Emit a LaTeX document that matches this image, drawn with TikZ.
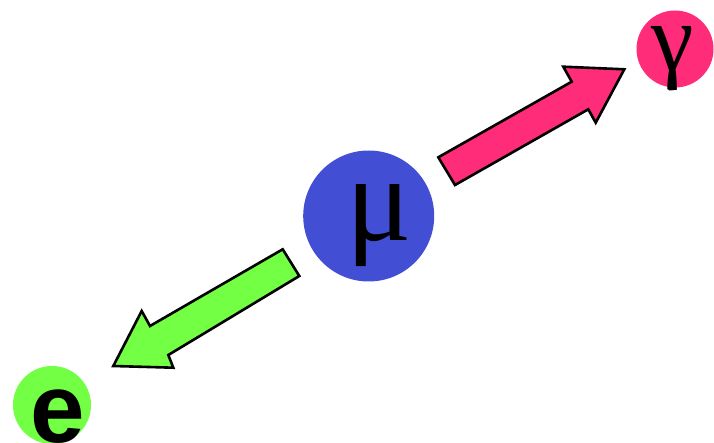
\documentclass[tikz,border=0pt]{standalone}
\usepackage{fontspec}
\setmainfont{Liberation Serif}
\newfontfamily\efont{Liberation Sans}
\definecolor{mublue}{RGB}{66,78,212}
\definecolor{gpink}{RGB}{255,44,122}
\definecolor{egreen}{RGB}{115,255,68}
\tikzset{
  particle/.style={circle, inner sep=0pt, draw=none},
  blockarrow/.style={draw=black, line width=2.6pt, line join=miter},
  glyph/.style={inner sep=0pt, text=black}
}
\begin{document}
\begin{tikzpicture}[x=1pt,y=-1pt]
\useasboundingbox (0,0) rectangle (714,443);
\clip (0,0) rectangle (714,443);
% particles
\node[particle, fill=mublue, minimum size=131pt] (mu) at (368.7,216) {};
\node[particle, fill=gpink, minimum size=77pt] (gamma) at (675,49) {};
\node[particle, fill=egreen, minimum size=78pt] (e) at (52,405) {};
% glyphs
\node[glyph, font=\fontsize{122}{122}\selectfont] (mul) at (379,226) {μ};
\node[glyph, font=\fontsize{96}{96}\selectfont] (gl) at (672.5,59) {γ};
\node[glyph, font=\efont\bfseries\fontsize{98}{98}\selectfont, anchor=base] (el) at (57.5,442) {e};
% pink arrow
\filldraw[blockarrow, fill=gpink]
  (438.3,157.3) -- (571.7,81.7) -- (563.3,66.7) -- (624.3,69.3)
  -- (595.7,122.7) -- (588.3,109.3) -- (455,185) -- cycle;
% green arrow
\filldraw[blockarrow, fill=egreen]
  (282.7,249.3) -- (150,326) -- (141.7,311) -- (113.3,366)
  -- (173.3,367.7) -- (168.3,355) -- (299.3,276) -- cycle;
\end{tikzpicture}
\end{document}
